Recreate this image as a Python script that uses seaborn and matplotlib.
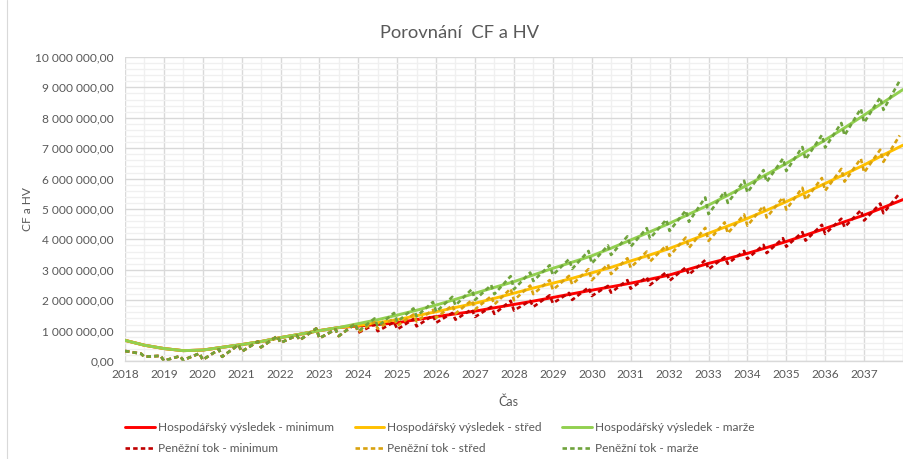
import matplotlib
matplotlib.use("Agg")
import matplotlib.pyplot as plt
import matplotlib.dates as mdates
from matplotlib.lines import Line2D
from matplotlib.ticker import FuncFormatter, MultipleLocator
import pandas as pd
import seaborn as sns

# ---------------------------------------------------------------------------
# Hospodářský výsledek (mil. Kč), pololetně od 1/2018 do 1/2038
# ---------------------------------------------------------------------------
hv_common = [0.68, 0.52, 0.41, 0.34, 0.36, 0.45, 0.54, 0.64, 0.77, 0.88, 1.00, 1.10]
hv_min = hv_common + [
    1.15, 1.20, 1.26, 1.36, 1.46, 1.55, 1.64, 1.75, 1.86, 1.97, 2.09, 2.21, 2.33, 2.44,
    2.56, 2.69, 2.83, 3.02, 3.21, 3.37, 3.54, 3.73, 3.93, 4.14, 4.36, 4.58, 4.80, 5.05, 5.31]
hv_stred = hv_common + [
    1.17, 1.26, 1.36, 1.49, 1.62, 1.76, 1.90, 2.06, 2.23, 2.40, 2.56, 2.72, 2.90, 3.08,
    3.29, 3.49, 3.70, 3.95, 4.20, 4.44, 4.69, 4.96, 5.24, 5.54, 5.84, 6.14, 6.45, 6.78, 7.10]
hv_marze = hv_common + [
    1.23, 1.36, 1.51, 1.67, 1.84, 2.03, 2.23, 2.42, 2.61, 2.83, 3.05, 3.25, 3.46, 3.71,
    3.98, 4.25, 4.53, 4.83, 5.13, 5.45, 5.79, 6.14, 6.50, 6.88, 7.27, 7.67, 8.09, 8.51, 8.93]

# ---------------------------------------------------------------------------
# Peněžní tok (mil. Kč): leden, červen, červenec, prosinec každého roku 2018-2037
# ---------------------------------------------------------------------------
cf_common = [
    0.33, 0.24, 0.14, 0.17,   # 2018
    0.01, 0.16, 0.03, 0.25,   # 2019
    0.04, 0.38, 0.14, 0.53,   # 2020
    0.31, 0.64, 0.45, 0.82,   # 2021
    0.60, 0.84, 0.69, 1.07,   # 2022
    0.75, 1.04, 0.82, 1.22,   # 2023
]
cf_min = cf_common + [
    0.93, 1.20, 0.98, 1.28,   # 2024
    1.04, 1.38, 1.14, 1.50,   # 2025
    1.26, 1.58, 1.36, 1.70,   # 2026
    1.45, 1.78, 1.55, 1.98,   # 2027
    1.66, 1.98, 1.78, 2.16,   # 2028
    1.90, 2.24, 2.01, 2.42,   # 2029
    2.14, 2.47, 2.25, 2.66,   # 2030
    2.38, 2.76, 2.50, 2.92,   # 2031
    2.64, 3.08, 2.84, 3.32,   # 2032
    3.02, 3.42, 3.20, 3.62,   # 2033
    3.36, 3.82, 3.55, 4.04,   # 2034
    3.76, 4.24, 3.96, 4.48,   # 2035
    4.18, 4.68, 4.40, 4.96,   # 2036
    4.62, 5.18, 4.86, 5.52,   # 2037
]
cf_stred = cf_common + [
    0.95, 1.28, 1.06, 1.40,
    1.16, 1.53, 1.30, 1.68,
    1.42, 1.83, 1.56, 2.00,
    1.70, 2.13, 1.86, 2.38,
    2.00, 2.48, 2.20, 2.66,
    2.34, 2.80, 2.52, 3.02,
    2.66, 3.18, 2.86, 3.38,
    3.07, 3.60, 3.27, 3.80,
    3.46, 4.06, 3.72, 4.38,
    3.95, 4.56, 4.20, 4.82,
    4.45, 5.10, 4.72, 5.38,
    4.98, 5.70, 5.30, 6.02,
    5.60, 6.32, 5.90, 6.66,
    6.20, 6.95, 6.55, 7.42,
]
cf_marze = cf_common + [
    0.98, 1.40, 1.14, 1.58,
    1.29, 1.73, 1.47, 1.94,
    1.62, 2.11, 1.83, 2.36,
    2.01, 2.50, 2.20, 2.79,
    2.36, 2.91, 2.63, 3.15,
    2.83, 3.35, 3.03, 3.62,
    3.21, 3.80, 3.49, 4.10,
    3.76, 4.37, 4.03, 4.65,
    4.28, 4.95, 4.58, 5.38,
    4.83, 5.57, 5.20, 5.93,
    5.54, 6.28, 5.89, 6.66,
    6.25, 7.04, 6.63, 7.43,
    7.02, 7.83, 7.42, 8.30,
    7.84, 8.67, 8.26, 9.22,
]

labels_hv = ["Hospodářský výsledek - minimum", "Hospodářský výsledek - střed",
             "Hospodářský výsledek - marže"]
labels_cf = ["Peněžní tok - minimum", "Peněžní tok - střed", "Peněžní tok - marže"]
colors_hv = ["#FF0000", "#FFC000", "#92D050"]
colors_cf = ["#C00000", "#D9A20E", "#6FA33C"]

# time axes for the two sampling schemes
hv_dates = pd.date_range("2018-01-01", "2038-01-01", freq="6MS")
cf_dates = pd.to_datetime([f"{y}-{m:02d}-01" for y in range(2018, 2038) for m in (1, 6, 7, 12)])

frames = []
for lab, vals in zip(labels_hv, [hv_min, hv_stred, hv_marze]):
    frames.append(pd.DataFrame({"Čas": hv_dates, "hodnota": [v * 1e6 for v in vals], "řada": lab}))
for lab, vals in zip(labels_cf, [cf_min, cf_stred, cf_marze]):
    frames.append(pd.DataFrame({"Čas": cf_dates, "hodnota": [v * 1e6 for v in vals], "řada": lab}))
df = pd.concat(frames, ignore_index=True)

# ---------------------------------------------------------------------------
sns.set_theme(style="white")
plt.rcParams["font.family"] = ["Lato", "DejaVu Sans"]
grey = "#595959"

W, H = 904, 459
fig = plt.figure(figsize=(W / 100, H / 100), dpi=100)
ax = fig.add_axes([125 / W, 1 - 361 / H, (903 - 125) / W, (361 - 57) / H])

dash = (1.7, 1.2)
for lab, col in zip(labels_hv, colors_hv):
    sns.lineplot(data=df[df["řada"] == lab], x="Čas", y="hodnota", color=col,
                 linewidth=2.1, errorbar=None, ax=ax, legend=False)
for lab, col in zip(labels_cf, colors_cf):
    sns.lineplot(data=df[df["řada"] == lab], x="Čas", y="hodnota", color=col,
                 linewidth=1.9, errorbar=None, ax=ax, legend=False)
    ax.lines[-1].set_dashes(dash)

ax.set_xlim(pd.Timestamp("2018-01-01"), pd.Timestamp("2038-01-01"))
ax.set_ylim(0, 10_000_000)

ax.yaxis.set_major_locator(MultipleLocator(1_000_000))
ax.yaxis.set_minor_locator(MultipleLocator(200_000))
ax.yaxis.set_major_formatter(FuncFormatter(
    lambda v, _: f"{v:,.2f}".replace(",", " ").replace(".", ",")))

ax.xaxis.set_major_locator(mdates.YearLocator())
ax.xaxis.set_minor_locator(mdates.MonthLocator(bymonth=7))
ax.xaxis.set_major_formatter(FuncFormatter(
    lambda v, _: mdates.num2date(v).strftime("%Y") if mdates.num2date(v).year < 2038 else ""))

ax.grid(which="major", color="#D9D9D9", linewidth=1.0)
ax.grid(which="minor", color="#F0F0F0", linewidth=1.0)
ax.set_axisbelow(True)
for side in ("top", "right", "left"):
    ax.spines[side].set_visible(False)
ax.spines["bottom"].set_color("#D9D9D9")
ax.spines["bottom"].set_linewidth(1.0)

ax.tick_params(axis="both", which="both", length=0, labelsize=8.6, labelcolor=grey)
ax.tick_params(axis="x", pad=6)
ax.tick_params(axis="y", pad=8)

ax.set_xlabel("Čas", fontsize=9, color=grey)
ax.xaxis.set_label_coords(0.493, -(395 - 361) / (361 - 57))
ax.set_ylabel("CF a HV", fontsize=8.6, color=grey)
ax.yaxis.set_label_coords(-(125 - 33) / (903 - 125), 0.5)
fig.text(460 / W, 1 - 33 / H, "Porovnání  CF a HV", ha="center", va="center",
         fontsize=13.2, color=grey)

handles = []
order = []
for i in range(3):
    handles.append(Line2D([], [], color=colors_hv[i], linewidth=2.1))
    order.append(labels_hv[i])
    h = Line2D([], [], color=colors_cf[i], linewidth=1.9)
    h.set_dashes(dash)
    handles.append(h)
    order.append(labels_cf[i])
fig.legend(handles, order, ncol=3, loc="center", bbox_to_anchor=(440 / W, 1 - 438 / H),
           frameon=False, fontsize=8.6, labelcolor=grey, handlelength=2.5,
           handletextpad=0.25, columnspacing=1.7, labelspacing=0.8)

fig.add_artist(Line2D([7 / W, 7 / W], [0, 1], color="#D9D9D9", linewidth=0.8,
                      transform=fig.transFigure))

fig.savefig("out.png", dpi=100)
